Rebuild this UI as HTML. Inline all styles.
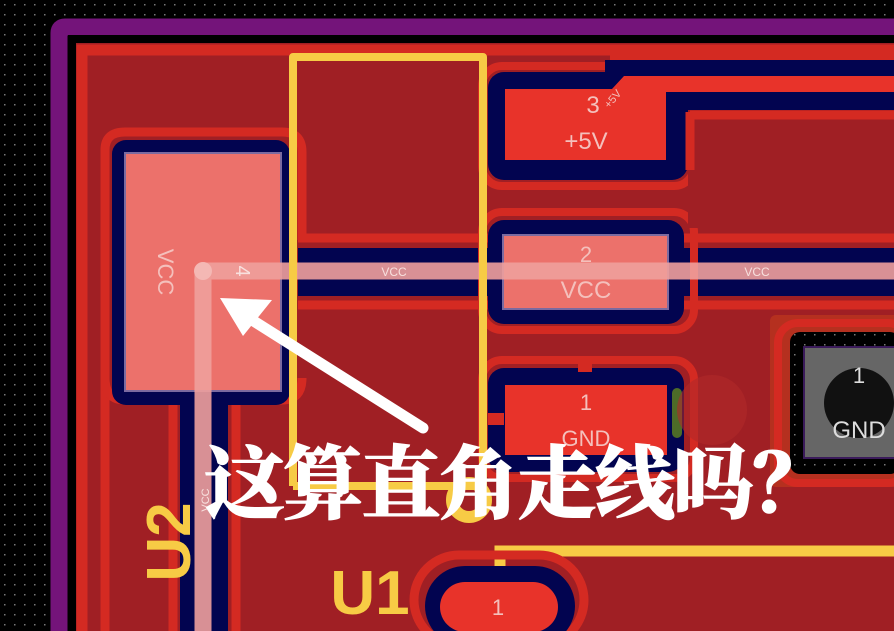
<!DOCTYPE html>
<html><head><meta charset="utf-8"><style>
html,body{margin:0;padding:0;background:#000;width:894px;height:631px;overflow:hidden}
svg{display:block}
</style></head><body>
<svg width="894" height="631" viewBox="0 0 894 631" xmlns="http://www.w3.org/2000/svg">
<defs>
<pattern id="dots" width="10" height="10" patternUnits="userSpaceOnUse"><rect x="4" y="4" width="1.5" height="1.5" fill="#777"/></pattern>
</defs>
<rect width="894" height="631" fill="#000"/>
<rect width="894" height="631" fill="url(#dots)"/>
<path d="M59,640 L59,33 Q59,27 65,27 L900,27" fill="none" stroke="#74147a" stroke-width="17"/>
<rect x="68" y="35" width="830" height="600" fill="#000"/>
<rect x="76" y="43" width="830" height="600" fill="#a01f24"/>
<path d="M82,640 L82,50 L900,50" fill="none" stroke="#d42a22" stroke-width="11"/>

<path d="M105,640 L105,150 Q105,132 125,132 L282,132 Q302,132 302,152 L302,240" fill="none" stroke="#d42a22" stroke-width="9"/>
<path d="M105,378 Q105,400 125,400 L173,400 L173,640" fill="none" stroke="#d42a22" stroke-width="9"/>
<path d="M302,378 Q302,400 282,400 L236,400 L236,640" fill="none" stroke="#d42a22" stroke-width="9"/>
<rect x="112" y="140" width="178" height="265" rx="14" fill="#020450"/>
<rect x="180" y="395" width="48" height="240" fill="#020450"/>
<rect x="125" y="153" width="156" height="238" fill="#ec716b" stroke="#7b6aa0" stroke-width="2"/>
<text x="0" y="0" transform="translate(158,272) rotate(90)" font-family="'Liberation Sans',sans-serif" font-size="22" fill="#f4c0bc" text-anchor="middle">VCC</text>

<path d="M298,238 L900,238" stroke="#d42a22" stroke-width="9"/>
<path d="M298,305 L900,305" stroke="#d42a22" stroke-width="9"/>
<rect x="298" y="248" width="600" height="48" fill="#020450"/>

<rect x="482" y="66" width="212" height="120" rx="20" fill="none" stroke="#d42a22" stroke-width="8"/>
<rect x="482" y="212" width="212" height="118" rx="20" fill="none" stroke="#d42a22" stroke-width="8"/>
<rect x="482" y="360" width="212" height="118" rx="20" fill="none" stroke="#d42a22" stroke-width="8"/>
<rect x="488" y="72" width="200" height="108" rx="16" fill="#020450"/>
<rect x="605" y="60" width="300" height="50" fill="#020450"/>
<path d="M610,56 L900,56" stroke="#d42a22" stroke-width="8"/>
<rect x="688" y="110" width="212" height="118" fill="#a01f24"/>
<path d="M690,115 L900,115" stroke="#d42a22" stroke-width="9"/>
<path d="M690,112 L690,170" stroke="#d42a22" stroke-width="9"/>
<path d="M505,89 L612,89 L624,76 L900,76 L900,92 L666,92 L666,160 L505,160 Z" fill="#e8332a"/>
<text x="593" y="113" font-family="'Liberation Sans',sans-serif" font-size="24" fill="#f4c0bc" text-anchor="middle">3</text>
<text x="605" y="108" transform="rotate(-50 608 104)" font-family="'Liberation Sans',sans-serif" font-size="11" fill="#f4c0bc">+5V</text>
<text x="586" y="149" font-family="'Liberation Sans',sans-serif" font-size="24" fill="#f4c0bc" text-anchor="middle">+5V</text>

<rect x="488" y="220" width="196" height="104" rx="16" fill="#020450"/>
<rect x="503" y="235" width="165" height="74" fill="#ec716b" stroke="#7b6aa0" stroke-width="2"/>
<text x="586" y="262" font-family="'Liberation Sans',sans-serif" font-size="22" fill="#f4c0bc" text-anchor="middle">2</text>
<text x="586" y="298" font-family="'Liberation Sans',sans-serif" font-size="24" fill="#f4c0bc" text-anchor="middle">VCC</text>

<rect x="488" y="368" width="196" height="104" rx="16" fill="#020450"/>
<rect x="578" y="360" width="14" height="12" fill="#d42a22"/>
<rect x="488" y="413" width="16" height="12" fill="#d42a22"/>
<rect x="505" y="385" width="162" height="70" fill="#e8332a"/>
<rect x="672" y="388" width="10" height="50" rx="5" fill="#4d6b28"/>
<circle cx="712" cy="410" r="35" fill="#b02a2a" opacity="0.6"/>
<text x="586" y="410" font-family="'Liberation Sans',sans-serif" font-size="22" fill="#f4c0bc" text-anchor="middle">1</text>
<text x="586" y="446" font-family="'Liberation Sans',sans-serif" font-size="22" fill="#f4c0bc" text-anchor="middle">GND</text>

<rect x="770" y="315" width="130" height="172" rx="6" fill="#b5301f"/>
<rect x="778" y="323" width="130" height="160" rx="20" fill="none" stroke="#d42a22" stroke-width="8"/>
<rect x="790" y="332" width="110" height="142" rx="10" fill="#000"/>
<rect x="790" y="332" width="110" height="142" fill="url(#dots)"/>
<rect x="804" y="347" width="95" height="111" fill="#666" stroke="#3a1a5a" stroke-width="2"/>
<circle cx="859" cy="403" r="35" fill="#111"/>
<text x="859" y="383" font-family="'Liberation Sans',sans-serif" font-size="22" fill="#ddd" text-anchor="middle">1</text>
<text x="859" y="438" font-family="'Liberation Sans',sans-serif" font-size="24" fill="#ddd" text-anchor="middle">GND</text>

<path d="M203,640 L203,271 L894,271" fill="none" stroke="#f0a09c" stroke-opacity="0.9" stroke-width="17" stroke-linecap="round" stroke-linejoin="round"/>
<circle cx="203" cy="271" r="9" fill="#f4b8b4"/>
<text x="394" y="276" font-family="'Liberation Sans',sans-serif" font-size="12" fill="#f8e0de" text-anchor="middle">VCC</text>
<text x="757" y="276" font-family="'Liberation Sans',sans-serif" font-size="12" fill="#f8e0de" text-anchor="middle">VCC</text>
<text x="0" y="0" transform="translate(236,271) rotate(90)" font-family="'Liberation Sans',sans-serif" font-size="20" fill="#f8e0de" text-anchor="middle">4</text>
<text x="0" y="0" transform="translate(209,500) rotate(-90)" font-family="'Liberation Sans',sans-serif" font-size="11" fill="#f8e0de" text-anchor="middle">VCC</text>

<path d="M293,486 L293,57 L483,57 L483,486 L293,486" fill="none" stroke="#f7cb45" stroke-width="8" stroke-linejoin="round"/>
<circle cx="469" cy="500" r="17" fill="none" stroke="#f7cb45" stroke-width="12"/>
<path d="M500,572 L500,551 L900,551" fill="none" stroke="#f7cb45" stroke-width="11" stroke-linecap="round"/>

<rect x="414" y="555" width="170" height="90" rx="45" fill="none" stroke="#d42a22" stroke-width="9"/>
<rect x="425" y="566" width="150" height="80" rx="40" fill="#020450"/>
<rect x="440" y="582" width="118" height="50" rx="25" fill="#e8332a"/>
<text x="498" y="615" font-family="'Liberation Sans',sans-serif" font-size="22" fill="#f4c0bc" text-anchor="middle">1</text>

<text x="370" y="614" font-family="'Liberation Sans',sans-serif" font-weight="bold" font-size="62" fill="#f7cb45" text-anchor="middle">U1</text>
<text x="0" y="0" transform="translate(190,542) rotate(-90)" font-family="'Liberation Sans',sans-serif" font-weight="bold" font-size="62" fill="#f7cb45" text-anchor="middle">U2</text>

<path d="M423,428 L252,320" stroke="#fff" stroke-width="11" stroke-linecap="round"/>
<path d="M220,298 L272,300 L243,336 Z" fill="#fff"/>

<text x="205 283 361 439 517 595 673 753" y="512" font-family="'Noto Serif CJK SC','Noto Sans CJK SC',serif" font-weight="900" font-size="80" fill="#fff" stroke="#fff" stroke-width="1">这算直角走线吗？</text>
</svg>
</body></html>
